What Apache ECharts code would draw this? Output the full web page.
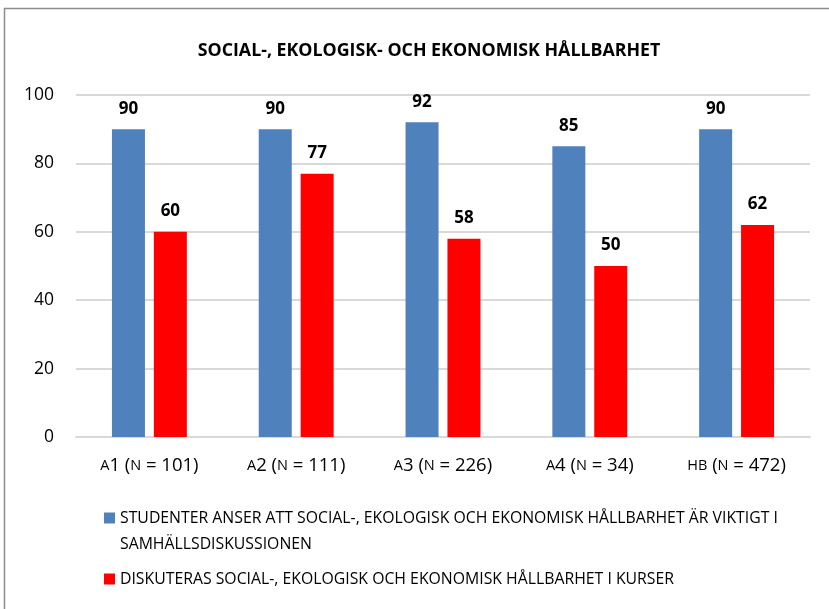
<!DOCTYPE html>
<html>
<head>
<meta charset="utf-8">
<script src="https://cdn.jsdelivr.net/npm/echarts@6/dist/echarts.min.js"></script>
<style>
  html, body { margin: 0; padding: 0; background: #fff; }
  #main { width: 829px; height: 609px; }
</style>
</head>
<body>
<div id="main"></div>
<script>
// kategorier (små kapitäler markeras med {sc|...})
const categories = ['{sc|A}1 ({sc|N} = 101)', '{sc|A}2 ({sc|N} = 111)', '{sc|A}3 ({sc|N} = 226)', '{sc|A}4 ({sc|N} = 34)', '{sc|HB} ({sc|N} = 472)']
const viktigt = [90, 90, 92, 85, 90]
const kurser = [60, 77, 58, 50, 62]
const seriesNames = [
    'STUDENTER ANSER ATT SOCIAL-, EKOLOGISK OCH EKONOMISK HÅLLBARHET ÄR VIKTIGT I SAMHÄLLSDISKUSSIONEN',
    'DISKUTERAS SOCIAL-, EKOLOGISK OCH EKONOMISK HÅLLBARHET I KURSER'
]

const font = 'Open Sans'
const legendText = { fontFamily: font, fontSize: 15.8, color: '#000', lineHeight: 26 }
// fyrkant överst i en 52 px hög ikon så den hamnar vid första textraden
const topSquare = 'path://M0,0h0.01v0.01h-0.01z M0,7.5h11v11h-11z M0,51.99h0.01v0.01h-0.01z'

const myChart = echarts.init(document.getElementById('main'))
const option = {
    animation: false,
    textStyle: { fontFamily: font },
    graphic: [{
        type: 'rect',
        shape: { x: 4.5, y: 8.5, width: 830, height: 610 },
        style: { fill: 'none', stroke: '#8c8c8c', lineWidth: 1.5 }
    }],
    title: {
        text: 'SOCIAL-, EKOLOGISK- OCH EKONOMISK HÅLLBARHET',
        left: 424, top: 37, textAlign: 'center',
        textStyle: { fontFamily: font, fontSize: 17.8, fontWeight: 'bold', color: '#000' }
    },
    legend: [
        {
            left: 104, top: 505, padding: 0,
            itemWidth: 11, itemHeight: 52,
            data: [{ name: seriesNames[0], icon: topSquare }],
            formatter: () => 'STUDENTER ANSER ATT SOCIAL-, EKOLOGISK OCH EKONOMISK HÅLLBARHET ÄR VIKTIGT I\nSAMHÄLLSDISKUSSIONEN',
            textStyle: legendText
        },
        {
            left: 104, top: 566, padding: 0,
            itemWidth: 11, itemHeight: 11,
            icon: 'rect',
            data: [seriesNames[1]],
            textStyle: legendText
        }
    ],
    grid: { left: 76, right: 19, top: 95, bottom: 172, containLabel: false },
    xAxis: {
        type: 'category',
        data: categories,
        axisLine: { lineStyle: { color: '#d9d9d9', width: 2 } },
        axisTick: { show: false },
        axisLabel: {
            interval: 0,
            margin: 19,
            fontFamily: font, fontSize: 18.5, color: '#000',
            rich: { sc: { fontFamily: font, fontSize: 14.5, color: '#000' } }
        }
    },
    yAxis: {
        type: 'value',
        min: 0, max: 100, interval: 20,
        axisLine: { show: false },
        axisTick: { show: false },
        splitLine: { lineStyle: { color: '#d9d9d9', width: 2 } },
        axisLabel: { margin: 22, fontFamily: font, fontSize: 17.5, color: '#000' }
    },
    series: [
        {
            name: seriesNames[0],
            type: 'bar',
            data: viktigt,
            barWidth: 33,
            barGap: '27%',
            itemStyle: { color: '#4f81bd' },
            label: { show: true, position: 'top', distance: 12, fontFamily: font, fontSize: 17, fontWeight: 'bold', color: '#000' }
        },
        {
            name: seriesNames[1],
            type: 'bar',
            data: kurser,
            barWidth: 33,
            itemStyle: { color: '#ff0000' },
            label: { show: true, position: 'top', distance: 12, fontFamily: font, fontSize: 17, fontWeight: 'bold', color: '#000' }
        }
    ]
}
myChart.setOption(option)
</script>
</body>
</html>
